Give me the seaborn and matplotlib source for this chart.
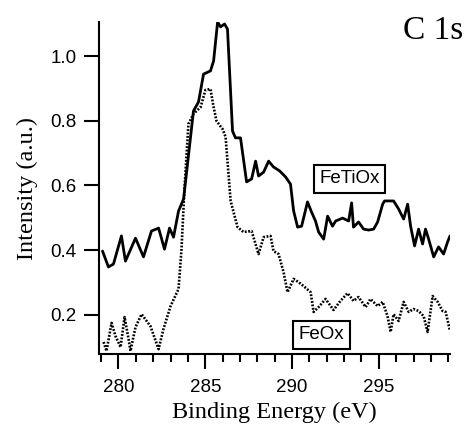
import matplotlib
matplotlib.use("Agg")
import matplotlib.pyplot as plt
from matplotlib.ticker import MultipleLocator
import seaborn as sns
import pandas as pd

# FeTiOx (solid)
fetiox_e = [279.08, 279.42, 279.71, 280.17, 280.40, 280.98, 281.44, 281.90, 282.31, 282.65,
            282.94, 283.17, 283.46, 283.75, 284.32, 284.61, 284.90, 285.30, 285.48, 285.71,
            285.88, 286.11, 286.28, 286.57, 286.74, 287.03, 287.38, 287.67, 287.90, 288.07,
            288.36, 288.65, 288.93, 289.28, 289.63, 289.91, 290.09, 290.32, 290.55, 290.89,
            291.12, 291.35, 291.53, 291.82, 292.05, 292.33, 292.51, 292.91, 293.26, 293.43,
            293.54, 293.83, 294.12, 294.41, 294.70, 294.93, 295.22, 295.33, 295.85, 296.14,
            296.43, 296.66, 296.83, 297.06, 297.29, 297.52, 297.69, 297.87, 298.16, 298.44,
            298.73, 298.96, 299.10]
fetiox_i = [0.397, 0.348, 0.357, 0.444, 0.366, 0.437, 0.379, 0.459, 0.468, 0.403,
            0.468, 0.440, 0.521, 0.558, 0.830, 0.858, 0.944, 0.954, 0.985, 1.105,
            1.090, 1.099, 1.083, 0.768, 0.747, 0.747, 0.611, 0.620, 0.675, 0.629,
            0.641, 0.675, 0.657, 0.645, 0.626, 0.604, 0.521, 0.471, 0.474, 0.549,
            0.518, 0.490, 0.456, 0.434, 0.505, 0.474, 0.490, 0.499, 0.490, 0.546,
            0.471, 0.487, 0.465, 0.462, 0.465, 0.487, 0.542, 0.552, 0.552, 0.527,
            0.496, 0.542, 0.474, 0.413, 0.465, 0.419, 0.465, 0.434, 0.379, 0.410,
            0.388, 0.425, 0.444]

# FeOx (dotted)
feox_e = [279.14, 279.31, 279.60, 279.83, 280.12, 280.35, 280.58, 280.69, 280.98, 281.33,
          281.84, 282.31, 282.59, 283.00, 283.46, 283.63, 283.80, 284.03, 284.32, 284.73,
          285.01, 285.30, 285.48, 285.65, 286.00, 286.17, 286.46, 286.86, 287.20, 287.67,
          288.07, 288.36, 288.76, 288.93, 289.22, 289.51, 289.74, 290.09, 290.38, 290.66,
          291.07, 291.24, 291.53, 291.93, 292.39, 292.79, 293.20, 293.54, 293.83, 294.24,
          294.52, 294.93, 295.22, 295.50, 295.68, 295.85, 296.14, 296.43, 296.72, 297.00,
          297.29, 297.58, 297.81, 298.10, 298.39, 298.67, 298.85, 299.10]
feox_i = [0.116, 0.088, 0.175, 0.134, 0.100, 0.193, 0.125, 0.088, 0.162, 0.202,
          0.165, 0.094, 0.156, 0.227, 0.280, 0.403, 0.589, 0.790, 0.821, 0.842,
          0.895, 0.898, 0.842, 0.799, 0.774, 0.750, 0.552, 0.471, 0.456, 0.459,
          0.388, 0.440, 0.444, 0.397, 0.388, 0.332, 0.270, 0.311, 0.301, 0.289,
          0.270, 0.209, 0.224, 0.249, 0.215, 0.243, 0.267, 0.243, 0.255, 0.224,
          0.249, 0.227, 0.240, 0.196, 0.147, 0.202, 0.181, 0.240, 0.209, 0.218,
          0.212, 0.196, 0.147, 0.258, 0.240, 0.212, 0.209, 0.150]

x_ticks = [280, 285, 290, 295]
y_ticks = [0.2, 0.4, 0.6, 0.8, 1.0]
y_tick_labels = ["0.2", "0.4", "0.6", "0.8", "1.0"]

sns.set_style("ticks")
plt.rcParams["font.family"] = ["Liberation Sans", "DejaVu Sans"]

fig = plt.figure(figsize=(4.67, 4.32), dpi=100)
ax = fig.add_axes([0.211, 0.1806, 0.7526, 0.7684])

df1 = pd.DataFrame({"E": fetiox_e, "I": fetiox_i})
df2 = pd.DataFrame({"E": feox_e, "I": feox_i})
sns.lineplot(data=df1, x="E", y="I", ax=ax, color="black", lw=2.0,
             solid_joinstyle="round")
sns.lineplot(data=df2, x="E", y="I", ax=ax, color="black", lw=1.9,
             linestyle=(0, (0.7, 0.6)))

ax.set_xlim(278.85, 299.1)
ax.set_ylim(0.079, 1.105)
ax.set_xticks(x_ticks)
ax.set_xticklabels([str(t) for t in x_ticks], fontsize=13.5, color="black")
ax.xaxis.set_minor_locator(MultipleLocator(1))
ax.set_yticks(y_ticks)
ax.set_yticklabels(y_tick_labels, fontsize=13.5, color="black")

for s in ["top", "right"]:
    ax.spines[s].set_visible(False)
for s in ["left", "bottom"]:
    ax.spines[s].set_linewidth(1.5)
    ax.spines[s].set_color("black")

ax.tick_params(axis="both", which="major", direction="out", length=11, width=1.5,
               color="black", pad=5)
ax.tick_params(axis="x", which="minor", direction="out", length=5.5, width=1.5,
               color="black")
ax.tick_params(axis="x", which="major", pad=7)

ax.set_xlabel("Binding Energy (eV)", fontsize=17.5, family="Liberation Serif",
              labelpad=4, color="black")
ax.set_ylabel("Intensity (a.u.)", fontsize=17.5, family="Liberation Serif",
              labelpad=9, color="black")

box = dict(boxstyle="square,pad=0.3", fc="white", ec="black", lw=1.5)
ax.text(293.30, 0.620, "FeTiOx", fontsize=13.5, ha="center", va="center",
        color="black", bbox=box)
ax.text(291.70, 0.138, "FeOx", fontsize=13.5, ha="center", va="center",
        color="black", bbox=box)

fig.text(463 / 467, 1 - 39 / 432, "C 1s", fontsize=24, family="Liberation Serif",
         ha="right", va="baseline", color="black")

fig.savefig("out.png", dpi=100)
